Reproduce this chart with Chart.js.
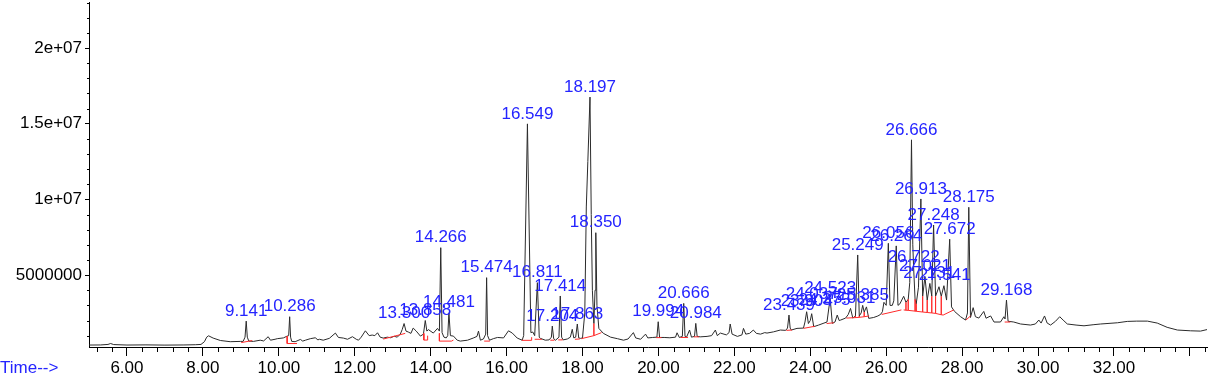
<!DOCTYPE html>
<html>
<head>
<meta charset="utf-8">
<script src="https://cdn.jsdelivr.net/npm/chart.js@4.4.1/dist/chart.umd.min.js"></script>
<style>
  html, body { margin: 0; padding: 0; background: #fff; }
  #wrap { width: 1211px; height: 376px; }
</style>
</head>
<body>
<div id="wrap"><canvas id="tic" width="1211" height="376"></canvas></div>
<script>
// retention time (min) and abundance of the trace
const times = [
  5.00, 5.30, 5.50, 5.57, 5.65, 6.00, 6.50, 7.00, 7.50, 7.80, 7.95, 8.04, 8.10, 8.15, 8.27, 8.46, 8.72, 8.99, 9.06, 9.11,
  9.141, 9.17, 9.21, 9.33, 9.51, 9.60, 9.72, 9.78, 9.90, 9.96, 10.12, 10.22, 10.26, 10.286, 10.31, 10.34, 10.43, 10.57, 10.63, 10.70,
  10.83, 10.96, 11.03, 11.07, 11.17, 11.33, 11.49, 11.57, 11.70, 11.81, 11.94, 12.04, 12.10, 12.17, 12.28, 12.38, 12.46, 12.53, 12.60, 12.67,
  12.75, 12.86, 12.94, 13.04, 13.12, 13.20, 13.25, 13.30, 13.35, 13.41, 13.48, 13.54, 13.62, 13.73, 13.81, 13.858, 13.90, 13.94, 14.07, 14.18,
  14.23, 14.266, 14.30, 14.35, 14.41, 14.45, 14.481, 14.52, 14.60, 14.70, 14.78, 14.97, 15.12, 15.22, 15.26, 15.31, 15.39, 15.45, 15.474, 15.50,
  15.55, 15.65, 15.76, 15.92, 16.05, 16.15, 16.28, 16.41, 16.45, 16.549, 16.64, 16.69, 16.74, 16.811, 16.86, 16.89, 17.02, 17.12, 17.18, 17.204,
  17.24, 17.29, 17.38, 17.414, 17.45, 17.49, 17.60, 17.68, 17.73, 17.77, 17.82, 17.863, 17.90, 17.95, 18.00, 18.06, 18.10, 18.14, 18.197, 18.23,
  18.26, 18.30, 18.33, 18.35, 18.38, 18.43, 18.55, 18.74, 18.92, 19.08, 19.20, 19.34, 19.40, 19.53, 19.66, 19.72, 19.85, 19.96, 19.994, 20.03,
  20.15, 20.30, 20.45, 20.49, 20.55, 20.63, 20.666, 20.70, 20.74, 20.82, 20.87, 20.95, 20.984, 21.02, 21.10, 21.28, 21.40, 21.50, 21.55, 21.63,
  21.79, 21.86, 21.89, 21.94, 22.08, 22.20, 22.24, 22.30, 22.40, 22.50, 22.58, 22.69, 22.80, 22.86, 23.03, 23.21, 23.35, 23.40, 23.439, 23.47,
  23.50, 23.65, 23.82, 23.86, 23.904, 23.95, 24.00, 24.037, 24.09, 24.22, 24.36, 24.44, 24.523, 24.58, 24.65, 24.71, 24.76, 24.80, 24.93, 25.00,
  25.06, 25.12, 25.19, 25.249, 25.29, 25.34, 25.38, 25.42, 25.48, 25.54, 25.67, 25.78, 25.85, 25.90, 25.94, 26.00, 26.056, 26.10, 26.16, 26.20,
  26.264, 26.31, 26.36, 26.46, 26.52, 26.58, 26.62, 26.666, 26.70, 26.722, 26.76, 26.79, 26.85, 26.913, 26.96, 27.02, 27.08, 27.15, 27.20, 27.248,
  27.30, 27.39, 27.45, 27.52, 27.59, 27.672, 27.72, 27.80, 27.96, 28.09, 28.14, 28.175, 28.22, 28.29, 28.35, 28.44, 28.57, 28.63, 28.75, 28.84,
  29.01, 29.10, 29.13, 29.168, 29.21, 29.36, 29.54, 29.80, 29.93, 30.02, 30.08, 30.17, 30.24, 30.33, 30.46, 30.57, 30.66, 30.77, 31.00, 31.21,
  31.45, 31.65, 32.09, 32.35, 32.60, 32.88, 33.14, 33.40, 33.67, 34.02, 34.28, 34.45
];
const abundance = [
  380e3, 385e3, 420e3, 480e3, 410e3, 380e3, 390e3, 375e3, 385e3, 400e3, 420e3, 600e3, 900e3, 990e3, 840e3, 680e3, 600e3, 620e3, 620e3, 900e3,
  1960e3, 900e3, 640e3, 620e3, 700e3, 650e3, 930e3, 700e3, 760e3, 800e3, 850e3, 970e3, 1000e3, 2250e3, 900e3, 620e3, 600e3, 750e3, 640e3, 700e3,
  800e3, 860e3, 720e3, 760e3, 700e3, 820e3, 1170e3, 880e3, 840e3, 760e3, 930e3, 760e3, 700e3, 900e3, 1320e3, 1000e3, 1040e3, 1000e3, 1190e3, 900e3,
  840e3, 900e3, 860e3, 960e3, 900e3, 1100e3, 1400e3, 1800e3, 1300e3, 1240e3, 1150e3, 1500e3, 1300e3, 970e3, 1100e3, 2000e3, 1300e3, 1400e3, 1170e3, 1480e3,
  1300e3, 6810e3, 1200e3, 900e3, 850e3, 1000e3, 2510e3, 1000e3, 970e3, 700e3, 640e3, 700e3, 840e3, 950e3, 1300e3, 700e3, 780e3, 1100e3, 4830e3, 1000e3,
  700e3, 800e3, 880e3, 850e3, 1320e3, 1170e3, 840e3, 700e3, 1000e3, 14990e3, 1200e3, 1240e3, 1000e3, 4500e3, 900e3, 820e3, 700e3, 720e3, 900e3, 1630e3,
  800e3, 700e3, 900e3, 3620e3, 900e3, 720e3, 780e3, 900e3, 1420e3, 850e3, 900e3, 1770e3, 850e3, 820e3, 850e3, 2500e3, 9500e3, 12500e3, 16760e3, 9000e3,
  4000e3, 1800e3, 4000e3, 7800e3, 3000e3, 1480e3, 1150e3, 900e3, 800e3, 700e3, 780e3, 1200e3, 850e3, 760e3, 1100e3, 850e3, 880e3, 900e3, 1920e3, 880e3,
  880e3, 860e3, 900e3, 1190e3, 880e3, 950e3, 3130e3, 950e3, 900e3, 1370e3, 900e3, 950e3, 1810e3, 950e3, 920e3, 950e3, 1000e3, 1370e3, 1000e3, 1170e3,
  1050e3, 1200e3, 1770e3, 1100e3, 950e3, 1050e3, 1480e3, 1100e3, 1150e3, 1370e3, 1150e3, 1100e3, 1200e3, 1170e3, 1250e3, 1370e3, 1350e3, 1500e3, 2360e3, 1500e3,
  1370e3, 1480e3, 1500e3, 1900e3, 2580e3, 1800e3, 2000e3, 2450e3, 1590e3, 1700e3, 1830e3, 1900e3, 3470e3, 1810e3, 1900e3, 2360e3, 2000e3, 2030e3, 2160e3, 2400e3,
  2800e3, 2160e3, 2300e3, 6330e3, 2300e3, 2500e3, 3000e3, 2560e3, 2900e3, 2140e3, 2200e3, 2300e3, 2400e3, 2580e3, 3200e3, 3000e3, 7100e3, 3000e3, 3000e3, 3300e3,
  6930e3, 3000e3, 3100e3, 3600e3, 3200e3, 3400e3, 4500e3, 13935e3, 7000e3, 5500e3, 3400e3, 3100e3, 4200e3, 10030e3, 3600e3, 4900e3, 3350e3, 4450e3, 3600e3, 8310e3,
  3600e3, 4230e3, 3600e3, 4300e3, 3350e3, 7370e3, 2900e3, 2600e3, 2250e3, 2030e3, 2500e3, 9480e3, 2200e3, 2850e3, 2250e3, 2160e3, 2600e3, 2150e3, 2300e3, 1900e3,
  1900e3, 2250e3, 2100e3, 3350e3, 1950e3, 1900e3, 1770e3, 1700e3, 1770e3, 2030e3, 1830e3, 2300e3, 1830e3, 1700e3, 1950e3, 2250e3, 2030e3, 1770e3, 1700e3, 1650e3,
  1720e3, 1770e3, 1850e3, 1940e3, 1960e3, 1960e3, 1830e3, 1550e3, 1370e3, 1320e3, 1300e3, 1400e3
];

// integration baselines (red), null = break between peaks
const baseTimes = [
  9.01, 9.30, null,
  10.22, 10.22, 10.48, null,
  12.75, 13.33, null,
  13.82, 13.82, 13.92, 13.92, null,
  14.23, 14.23, 14.55, 14.60, null,
  15.41, 15.56, null,
  16.40, 16.66, 16.66, null,
  16.74, 16.93, null,
  17.15, 17.26, null,
  17.36, 17.48, null,
  17.80, 17.93, null,
  17.97, 18.30, 18.30, 18.30, 18.50, null,
  19.94, 20.08, null,
  20.58, 20.78, null,
  20.93, 21.07, null,
  23.37, 23.52, null,
  23.82, 24.12, null,
  24.43, 24.62, null,
  24.95, 25.19, 25.19, 25.19, 25.29, 25.29, 25.29, 25.42, 25.42, 25.42, 25.55, null,
  25.88, 26.40, null,
  26.46, 26.52, 26.52, 26.52, 26.58, 26.58, 26.58, 26.76, 26.76, 26.76, 26.79, 26.79, 26.79, 26.96, 26.96, 26.96,
  27.08, 27.08, 27.08, 27.20, 27.20, 27.20, 27.30, 27.30, 27.30, 27.45, 27.45, 27.45, 27.50, 27.78, null,
  28.10, 28.22, null,
  29.12, 29.27
];
const baseValues = [
  542e3, 675e3, null,
  970e3, 480e3, 480e3, null,
  774e3, 1150e3, null,
  1150e3, 708e3, 708e3, 1000e3, null,
  1150e3, 640e3, 640e3, 708e3, null,
  640e3, 640e3, null,
  690e3, 690e3, 900e3, null,
  760e3, 760e3, null,
  700e3, 700e3, null,
  720e3, 720e3, null,
  760e3, 780e3, null,
  800e3, 1000e3, 1800e3, 1000e3, 1200e3, null,
  870e3, 870e3, null,
  880e3, 880e3, null,
  920e3, 920e3, null,
  1350e3, 1370e3, null,
  1480e3, 1620e3, null,
  1800e3, 1850e3, null,
  2160e3, 2190e3, 2300e3, 2190e3, 2210e3, 2300e3, 2210e3, 2250e3, 2560e3, 2250e3, 2300e3, null,
  2400e3, 2700e3, null,
  2700e3, 2680e3, 3200e3, 2680e3, 2670e3, 3400e3, 2670e3, 2620e3, 3400e3, 2620e3, 2610e3, 3100e3, 2610e3, 2560e3, 3600e3, 2560e3,
  2530e3, 3350e3, 2530e3, 2500e3, 3600e3, 2500e3, 2470e3, 3600e3, 2470e3, 2380e3, 3600e3, 2380e3, 2360e3, 2700e3, null,
  2030e3, 2300e3, null,
  1900e3, 1900e3
];

// peak annotations
const peakNames = [
  "9.141", "10.286", "13.300", "13.858", "14.266", "14.481", "15.474", "16.549", "16.811", "17.204",
  "17.414", "17.863", "18.197", "18.350", "19.994", "20.666", "20.984", "23.439", "23.904", "24.037",
  "24.375", "24.523", "25.031", "25.249", "25.385", "26.056", "26.264", "26.666", "26.722", "26.913",
  "27.021", "27.131", "27.248", "27.541", "27.672", "28.175", "29.168"
];
const peakTimes = [
  9.141, 10.286, 13.300, 13.858, 14.266, 14.481, 15.474, 16.549, 16.811, 17.204,
  17.414, 17.863, 18.197, 18.350, 19.994, 20.666, 20.984, 23.439, 23.904, 24.037,
  24.375, 24.523, 25.031, 25.249, 25.385, 26.056, 26.264, 26.666, 26.722, 26.913,
  27.021, 27.131, 27.248, 27.541, 27.672, 28.175, 29.168
];
const peakTops = [
  1960e3, 2250e3, 1800e3, 2000e3, 6810e3, 2510e3, 4830e3, 14990e3, 4500e3, 1630e3,
  3620e3, 1770e3, 16760e3, 7800e3, 1920e3, 3130e3, 1810e3, 2360e3, 2580e3, 3100e3,
  2700e3, 3470e3, 2800e3, 6330e3, 3000e3, 7100e3, 6930e3, 13935e3, 5500e3, 10030e3,
  4900e3, 4450e3, 8310e3, 4300e3, 7370e3, 9480e3, 3350e3
];

// axis ticks
const xTickValues = [6, 8, 10, 12, 14, 16, 18, 20, 22, 24, 26, 28, 30, 32, 34];
const xTickLabels = ["6.00", "8.00", "10.00", "12.00", "14.00", "16.00", "18.00", "20.00", "22.00", "24.00", "26.00", "28.00", "30.00", "32.00", ""];
const yTickValues = [5e6, 1e7, 1.5e7, 2e7];
const yTickLabels = ["5000000", "1e+07", "1.5e+07", "2e+07"];

const FONT = "'Liberation Sans', Arial, sans-serif";
const BLUE = '#2424ff';

const tracePoints = times.map((t, i) => ({ x: t, y: abundance[i] }));
const basePoints = baseTimes.map((t, i) => ({ x: t, y: baseValues[i] }));

// small ticks between the labelled ones + peak labels + "Time-->"
const extras = {
  id: 'extras',
  afterDraw(chart) {
    const { ctx, scales: { x, y } } = chart;
    ctx.save();
    ctx.strokeStyle = '#000';
    ctx.lineWidth = 1;
    ctx.beginPath();
    for (let k = 13; k * 0.4 < x.max; k++) {
      const v = k * 0.4;
      if (Math.abs(v / 2 - Math.round(v / 2)) < 1e-6) continue;
      const px = Math.round(x.getPixelForValue(v)) + 0.5;
      ctx.moveTo(px, x.top);
      ctx.lineTo(px, x.top + 5);
    }
    for (let k = 1; k * 1e6 < y.max; k++) {
      if (k % 5 === 0) continue;
      const py = Math.round(y.getPixelForValue(k * 1e6)) + 0.5;
      ctx.moveTo(y.right, py);
      ctx.lineTo(y.right - 2, py);
    }
    ctx.stroke();

    ctx.fillStyle = BLUE;
    ctx.font = '17px ' + FONT;
    ctx.textAlign = 'center';
    ctx.textBaseline = 'middle';
    peakNames.forEach((name, i) => {
      const px = x.getPixelForValue(peakTimes[i]);
      const py = y.getPixelForValue(peakTops[i]) - 10;
      ctx.fillText(name, px, py);
    });

    ctx.textAlign = 'left';
    ctx.fillText('Time-->', 0, 368);
    ctx.restore();
  }
};

new Chart(document.getElementById('tic'), {
  type: 'line',
  data: {
    datasets: [
      {
        data: basePoints,
        borderColor: '#ff2a2a',
        borderWidth: 1,
        pointRadius: 0,
        spanGaps: false,
        order: 0
      },
      {
        data: tracePoints,
        borderColor: '#2b2b2b',
        borderWidth: 1,
        pointRadius: 0,
        tension: 0,
        order: 1
      }
    ]
  },
  options: {
    responsive: false,
    animation: false,
    events: [],
    layout: { padding: { top: 2, right: 4, left: 0, bottom: 0 } },
    plugins: { legend: { display: false }, tooltip: { enabled: false } },
    scales: {
      x: {
        type: 'linear',
        min: 5.0,
        max: 34.45,
        afterBuildTicks: s => { s.ticks = xTickValues.map(v => ({ value: v })); },
        afterFit: s => { s.height = 29; s.paddingLeft = 0; s.paddingRight = 0; },
        ticks: {
          callback: (v, i) => xTickLabels[i],
          autoSkip: false,
          maxRotation: 0,
          color: '#000',
          padding: 2,
          font: { size: 17, family: FONT }
        },
        grid: { drawOnChartArea: false, tickLength: 9, tickColor: '#000' },
        border: { color: '#000' }
      },
      y: {
        type: 'linear',
        min: 250000,
        max: 23040000,
        afterBuildTicks: s => { s.ticks = yTickValues.map(v => ({ value: v })); },
        afterFit: s => { s.width = 89; s.paddingTop = 0; s.paddingBottom = 0; },
        ticks: {
          callback: (v, i) => yTickLabels[i],
          color: '#000',
          padding: 3,
          font: { size: 17, family: FONT }
        },
        grid: { drawOnChartArea: false, tickLength: 4, tickColor: '#000' },
        border: { color: '#000' }
      }
    }
  },
  plugins: [extras]
});
</script>
</body>
</html>
